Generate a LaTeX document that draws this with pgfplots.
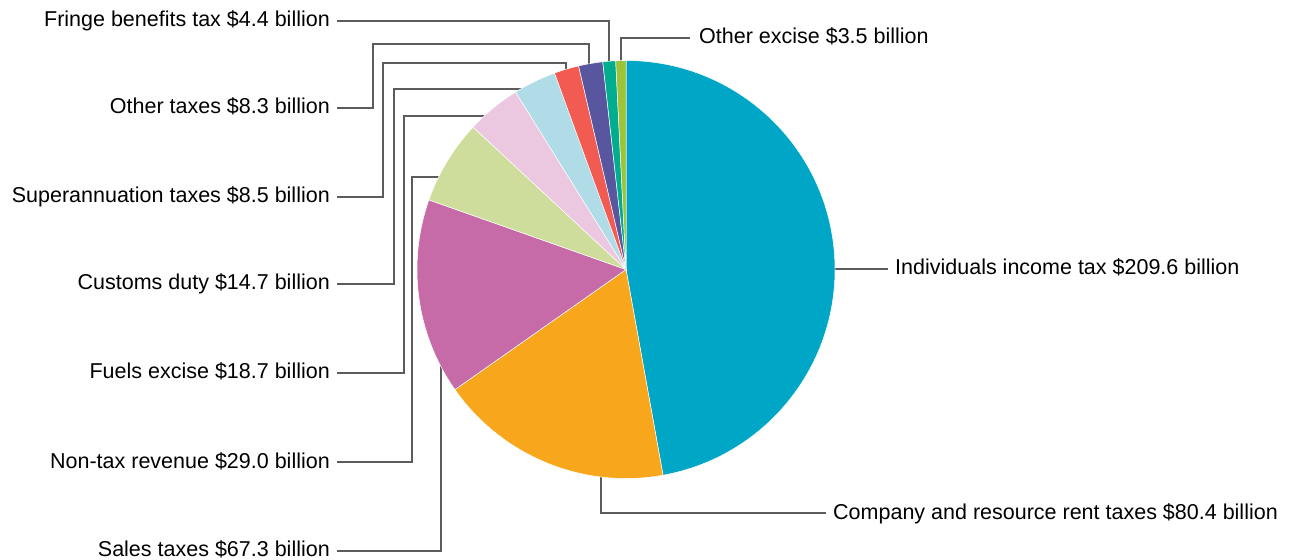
\documentclass[border=0pt]{standalone}
\usepackage{fontspec}
\setmainfont{Liberation Sans}
\usepackage{pgfplots}
\pgfplotsset{compat=1.18}
\definecolor{cInd}{HTML}{00A6C5}
\definecolor{cCom}{HTML}{F8A61C}
\definecolor{cSal}{HTML}{C66BA8}
\definecolor{cNon}{HTML}{CEDD9B}
\definecolor{cFue}{HTML}{ECC8E0}
\definecolor{cCus}{HTML}{B0DCE8}
\definecolor{cSup}{HTML}{F15B52}
\definecolor{cOth}{HTML}{5956A0}
\definecolor{cFri}{HTML}{00AE8F}
\definecolor{cExc}{HTML}{9DC33B}
\definecolor{leadgray}{HTML}{5C5C5C}
\begin{document}
\begin{tikzpicture}
% values ($ billion), clockwise from 12 o'clock
\pgfmathsetmacro\vA{209.6}% Individuals income tax
\pgfmathsetmacro\vB{80.4}% Company and resource rent taxes
\pgfmathsetmacro\vC{67.3}% Sales taxes
\pgfmathsetmacro\vD{29.0}% Non-tax revenue
\pgfmathsetmacro\vE{18.7}% Fuels excise
\pgfmathsetmacro\vF{14.7}% Customs duty
\pgfmathsetmacro\vG{8.5}% Superannuation taxes
\pgfmathsetmacro\vH{8.3}% Other taxes
\pgfmathsetmacro\vI{4.4}% Fringe benefits tax
\pgfmathsetmacro\vJ{3.5}% Other excise
\pgfmathsetmacro\tot{\vA+\vB+\vC+\vD+\vE+\vF+\vG+\vH+\vI+\vJ}
\pgfmathsetmacro\aA{0}
\pgfmathsetmacro\aB{\aA+\vA/\tot*360}
\pgfmathsetmacro\aC{\aB+\vB/\tot*360}
\pgfmathsetmacro\aD{\aC+\vC/\tot*360}
\pgfmathsetmacro\aE{\aD+\vD/\tot*360}
\pgfmathsetmacro\aF{\aE+\vE/\tot*360}
\pgfmathsetmacro\aG{\aF+\vF/\tot*360}
\pgfmathsetmacro\aH{\aG+\vG/\tot*360}
\pgfmathsetmacro\aI{\aH+\vH/\tot*360}
\pgfmathsetmacro\aJ{\aI+\vI/\tot*360}
\pgfmathsetmacro\aK{360}
\begin{axis}[scale only axis, width=1289bp, height=560bp,
  xmin=0, xmax=1289, ymin=0, ymax=560, y dir=reverse,
  hide axis, clip=false]
\path (axis cs:0,0) rectangle (axis cs:1289,560);
\tikzset{leader/.style={draw=leadgray, line width=1.8bp},
  lab/.style={inner sep=0pt, text=black, font=\fontsize{21.5bp}{26bp}\selectfont}}
% leader lines
\draw[leader] (axis cs:337,21) -- (axis cs:609,21) -- (axis cs:609,63);
\draw[leader] (axis cs:690,38) -- (axis cs:621,38) -- (axis cs:621,62);
\draw[leader] (axis cs:337,108) -- (axis cs:373,108) -- (axis cs:373,44) -- (axis cs:589,44) -- (axis cs:589,66);
\draw[leader] (axis cs:337,197) -- (axis cs:383,197) -- (axis cs:383,63) -- (axis cs:566,63) -- (axis cs:566,71);
\draw[leader] (axis cs:337,284) -- (axis cs:394,284) -- (axis cs:394,89) -- (axis cs:524,89);
\draw[leader] (axis cs:337,373) -- (axis cs:404,373) -- (axis cs:404,116) -- (axis cs:487,116);
\draw[leader] (axis cs:337,462) -- (axis cs:412,462) -- (axis cs:412,177) -- (axis cs:440,177);
\draw[leader] (axis cs:337,551) -- (axis cs:441,551) -- (axis cs:441,363);
\draw[leader] (axis cs:601,476) -- (axis cs:601,513) -- (axis cs:826,513);
\draw[leader] (axis cs:833,269) -- (axis cs:888,269);
% slices
\newcommand\slice[3]{\fill[#3, draw=white, line width=0.5bp] (axis cs:626,269.5) -- ++({90-#1}:209bp) arc[start angle={90-#1}, end angle={90-#2}, radius=209bp] -- cycle;}
\slice{\aA}{\aB}{cInd}
\slice{\aB}{\aC}{cCom}
\slice{\aC}{\aD}{cSal}
\slice{\aD}{\aE}{cNon}
\slice{\aE}{\aF}{cFue}
\slice{\aF}{\aG}{cCus}
\slice{\aG}{\aH}{cSup}
\slice{\aH}{\aI}{cOth}
\slice{\aI}{\aJ}{cFri}
\slice{\aJ}{\aK}{cExc}
% labels
\node[lab, anchor=base east] at (axis cs:330,27) {Fringe benefits tax \$4.4 billion};
\node[lab, anchor=base east] at (axis cs:330,114) {Other taxes \$8.3 billion};
\node[lab, anchor=base east] at (axis cs:330,203) {Superannuation taxes \$8.5 billion};
\node[lab, anchor=base east] at (axis cs:330,290) {Customs duty \$14.7 billion};
\node[lab, anchor=base east] at (axis cs:330,379) {Fuels excise \$18.7 billion};
\node[lab, anchor=base east] at (axis cs:330,468) {Non-tax revenue \$29.0 billion};
\node[lab, anchor=base east] at (axis cs:330,556) {Sales taxes \$67.3 billion};
\node[lab, anchor=base west] at (axis cs:699,44) {Other excise \$3.5 billion};
\node[lab, anchor=base west] at (axis cs:895,275) {Individuals income tax \$209.6 billion};
\node[lab, anchor=base west] at (axis cs:833,519) {Company and resource rent taxes \$80.4 billion};
\end{axis}
\end{tikzpicture}
\end{document}
